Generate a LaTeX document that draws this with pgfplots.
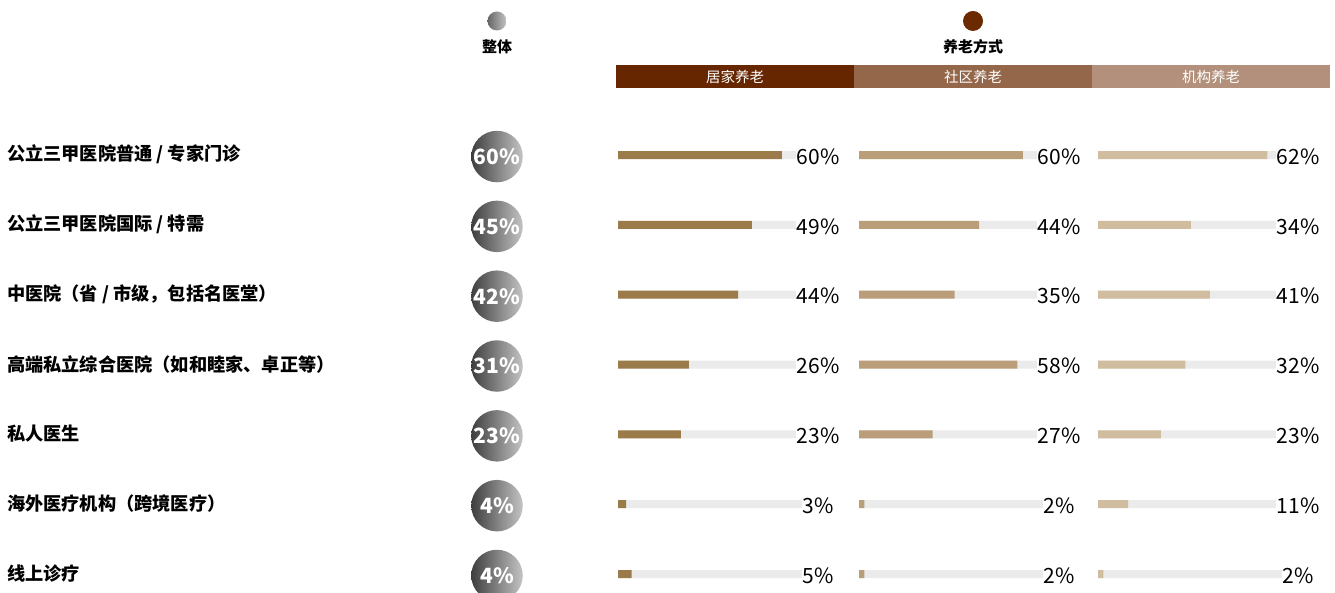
\documentclass[border=0pt]{standalone}
\usepackage{fontspec}
\setmainfont{Noto Sans CJK SC}
\usepackage{pgfplots}
\pgfplotsset{compat=1.18}
\usepackage{pgfplotstable}
\definecolor{hdA}{HTML}{662600}
\definecolor{hdB}{HTML}{94674B}
\definecolor{hdC}{HTML}{B3907B}
\definecolor{cA}{HTML}{9B7B4A}
\definecolor{cB}{HTML}{BA9E7A}
\definecolor{cC}{HTML}{D0BD9F}
\definecolor{track}{HTML}{EBEBEB}
\definecolor{gdark}{HTML}{3E3E3E}
\definecolor{glight}{HTML}{C4C4C4}
\definecolor{brownc}{HTML}{6B2A00}

\pgfplotstableread{
row overall home community inst
0 60 60 60 62
1 45 49 44 34
2 42 44 35 41
3 31 26 58 32
4 23 23 27 23
5 4 3 2 11
6 4 5 2 2
}\data

\pgfplotsset{
  rowaxis/.style={scale only axis, y dir=reverse, ymin=-0.2, ymax=6.2,
    height=446.9pt, anchor=south west, clip=false,
    axis line style={draw=none}, tick style={draw=none},
    xtick=\empty, ytick=\empty,
    /pgf/number format/assume math mode=true},
  barcol/.style={rowaxis, width=200pt, xmin=0, xmax=73.26},
  pctlabel/.style={draw=none, mark=none, nodes near coords={\pgfmathprintnumber{\pgfplotspointmeta}\%},
    point meta=explicit, nodes near coords align={center},
    every node near coord/.append style={anchor=center, fill=white, inner sep=1pt, text=black,
      font=\fontsize{21}{21}\selectfont, yshift=-1.5pt}},
}

\begin{document}
\begin{tikzpicture}[x=1pt,y=1pt]
\useasboundingbox (0,0) rectangle (1335,593);
% header bands
\fill[hdA] (616,505) rectangle (854,528);
\fill[hdB] (854,505) rectangle (1092,528);
\fill[hdC] (1092,505) rectangle (1330,528);
\node[text=white, font=\fontsize{14.5}{14.5}\selectfont] at (735,516.5) {居家养老};
\node[text=white, font=\fontsize{14.5}{14.5}\selectfont] at (973,516.5) {社区养老};
\node[text=white, font=\fontsize{14.5}{14.5}\selectfont] at (1211,516.5) {机构养老};
\node[font=\bfseries\fontsize{15}{15}\selectfont] at (973,546.5) {养老方式};
\node[font=\bfseries\fontsize{15}{15}\selectfont] at (497,546.5) {整体};
\fill[brownc] (973,572) circle (10);
\shade[left color=gdark!80, right color=glight] (497,572) circle (9.5);

% overall + row labels
\begin{axis}[rowaxis, at={(0pt,5.03pt)}, width=1335pt, xmin=0, xmax=1335,
  ytick={0,...,6},
  yticklabels={公立三甲医院普通 / 专家门诊, 公立三甲医院国际 / 特需, 中医院（省 / 市级，包括名医堂）, 高端私立综合医院（如和睦家、卓正等）, 私人医生, 海外医疗机构（跨境医疗）, 线上诊疗},
  yticklabel style={anchor=west, xshift=3.5pt, font=\bfseries\fontsize{18.2}{18.2}\selectfont, yshift=0.5pt}]
\addplot[draw=none, mark=none, nodes near coords={\pgfmathprintnumber{\pgfplotspointmeta}\%},
  point meta=explicit, nodes near coords align={center},
  every node near coord/.append style={anchor=center, circle, minimum size=51.5pt, inner sep=0pt,
    left color=gdark, right color=glight, text=white,
    font=\bfseries\fontsize{21}{21}\selectfont, yshift=-1.5pt}]
  table[x expr=497, y=row, meta=overall] {\data};
\end{axis}

% column 1
\begin{axis}[barcol, at={(618pt,5.03pt)}]
\addplot[xbar, bar width=8pt, bar shift=0pt, fill=track, draw=none] table[x expr=73.26, y=row] {\data};
\addplot[xbar, bar width=8pt, bar shift=0pt, fill=cA, draw=none] table[x=home, y=row] {\data};
\addplot[pctlabel] table[x expr=73.26, y=row, meta=home] {\data};
\end{axis}

% column 2
\begin{axis}[barcol, at={(859pt,5.03pt)}]
\addplot[xbar, bar width=8pt, bar shift=0pt, fill=track, draw=none] table[x expr=73.26, y=row] {\data};
\addplot[xbar, bar width=8pt, bar shift=0pt, fill=cB, draw=none] table[x=community, y=row] {\data};
\addplot[pctlabel] table[x expr=73.26, y=row, meta=community] {\data};
\end{axis}

% column 3
\begin{axis}[barcol, at={(1098pt,5.03pt)}]
\addplot[xbar, bar width=8pt, bar shift=0pt, fill=track, draw=none] table[x expr=73.26, y=row] {\data};
\addplot[xbar, bar width=8pt, bar shift=0pt, fill=cC, draw=none] table[x=inst, y=row] {\data};
\addplot[pctlabel] table[x expr=73.26, y=row, meta=inst] {\data};
\end{axis}
\end{tikzpicture}
\end{document}
